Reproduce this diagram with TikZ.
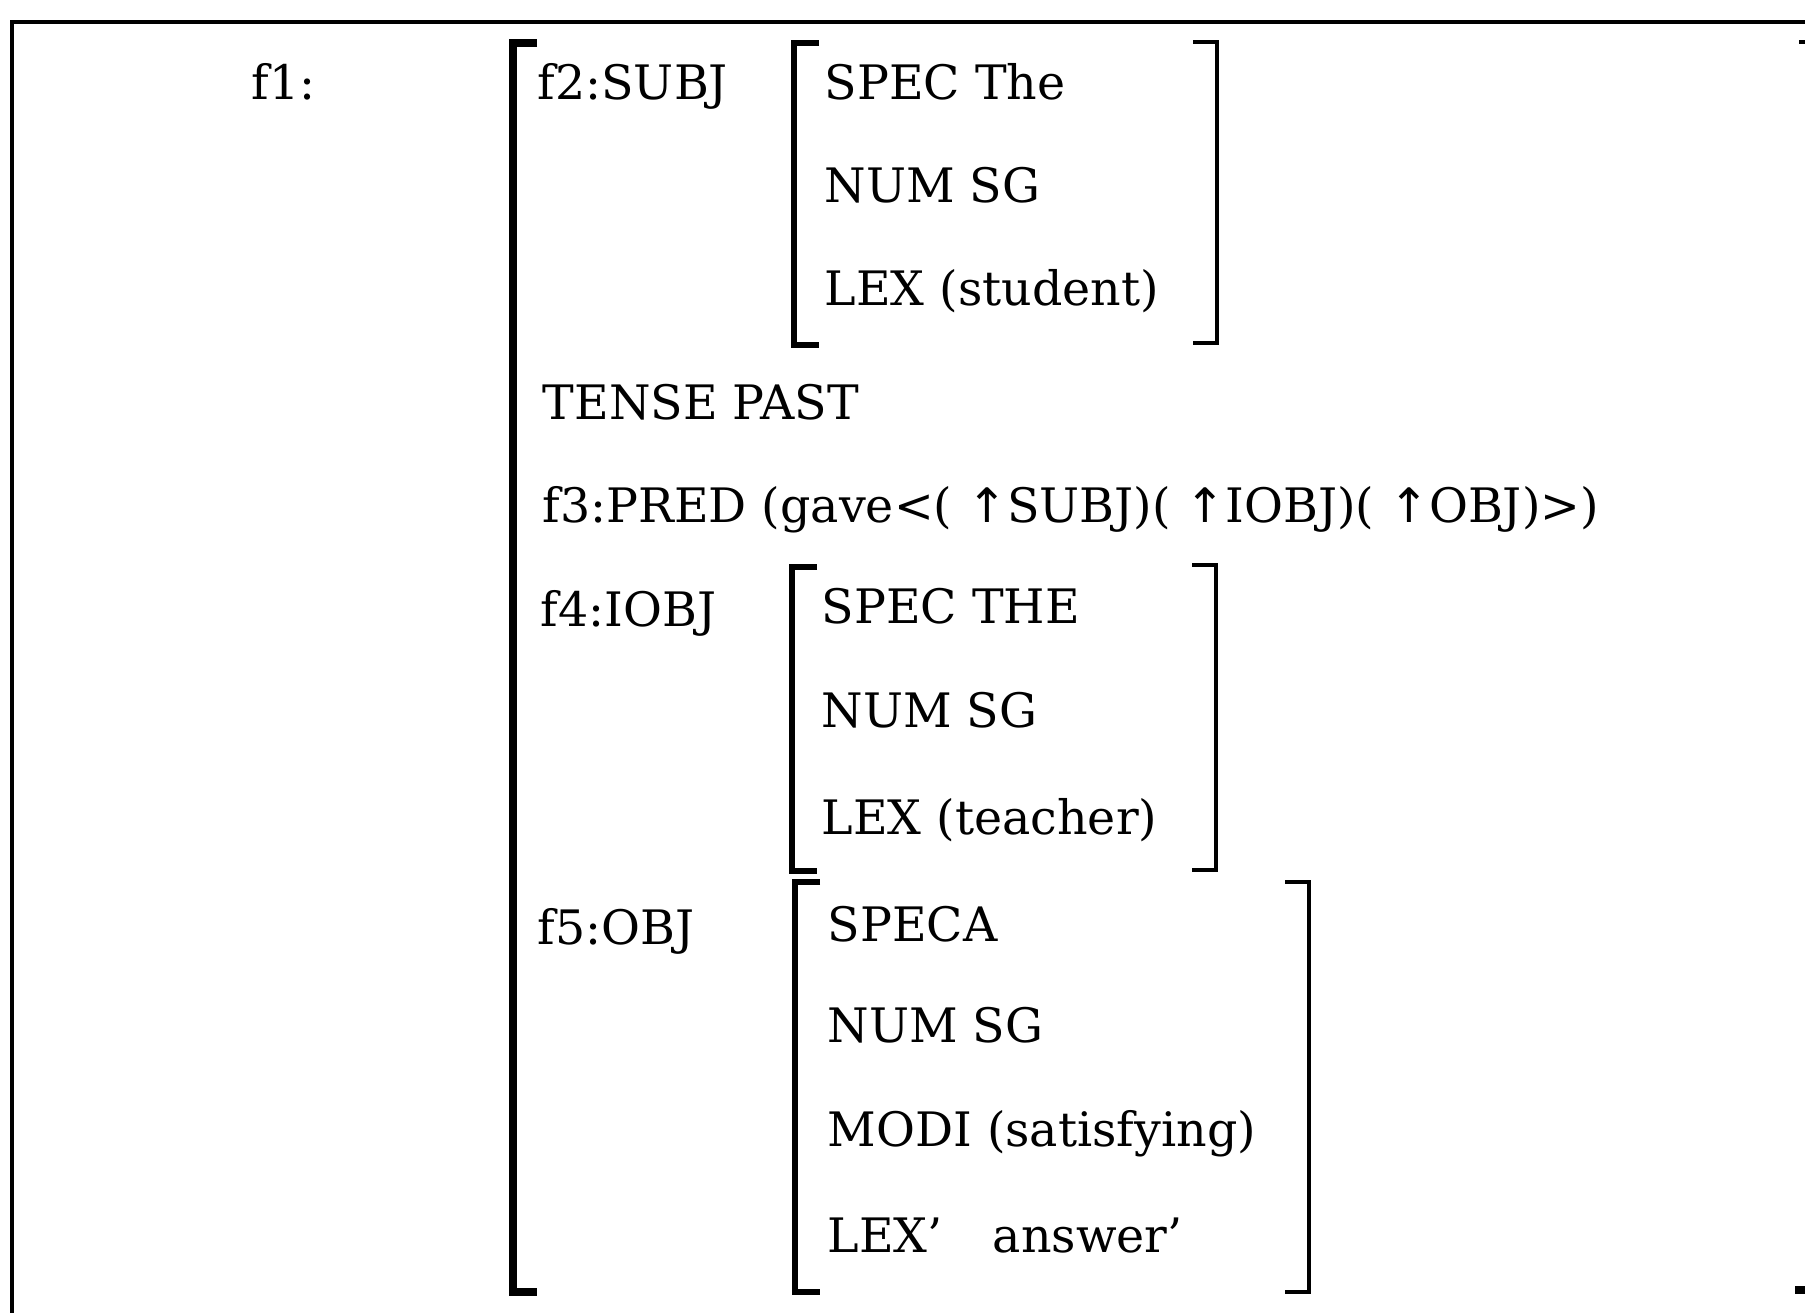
\documentclass[tikz,border=0pt]{standalone}
\usepackage{fontspec}
\setmainfont{DejaVu Serif}
\newfontfamily\arrowfont{DejaVu Sans}
\usetikzlibrary{positioning}

\begin{document}
\begin{tikzpicture}[x=0.01cm,y=-0.01cm,
  lbl/.style={anchor=base west,inner sep=0pt,font=\fontsize{13.5pt}{16pt}\selectfont},
  lbrack/.style={line width=1.5pt},
  obrack/.style={line width=2pt},
  rbrack/.style={line width=0.9pt},
  frame/.style={line width=1.2pt}]
  \useasboundingbox (0,0) rectangle (1805,1313);
  % frame
  \draw[frame] (12,1313) -- (12,22) -- (1805,22);
  % outer structure
  \node[lbl] (f1) at (251,100) {f1:};
  \draw[obrack] (537,43) -- (513,43) -- (513,1292) -- (537,1292);
  \draw[rbrack] (1799,42) -- (1805,42);
  \draw[obrack] (1795,1290) -- (1805,1290);
  \node[lbl] (subj) at (537,100) {f2:SUBJ};
  \node[lbl] (tense) at (542,420) {TENSE PAST};
  \node[lbl] (pred) at (542,523) {f3:PRED (gave<( {\arrowfont ↑}SUBJ)( {\arrowfont ↑}IOBJ)( {\arrowfont ↑}OBJ)>)};
  \node[lbl] (iobj) at (540,627) {f4:IOBJ};
  \node[lbl] (obj) at (537,945) {f5:OBJ};
  % inner brackets
  \foreach \x/\t/\b in {794/43/345, 792/567/871, 795/882/1292}{
    \draw[lbrack] (\x+25,\t) -- (\x,\t) -- (\x,\b) -- (\x+25,\b);}
  \foreach \x/\t/\b in {1217/42/343, 1216/565/870, 1309/882/1292}{
    \draw[rbrack] (\x-24,\t) -- (\x,\t) -- (\x,\b) -- (\x-24,\b);}
  % f2 features
  \foreach \n/\y/\t in {spa/100/{SPEC The}, nma/203/{NUM SG}, lxa/306/{LEX (student)}}{
    \node[lbl] (\n) at (824,\y) {\t};}
  % f4 features
  \foreach \n/\y/\t in {spb/624/{SPEC THE}, nmb/728/{NUM SG}, lxb/835/{LEX (teacher)}}{
    \node[lbl] (\n) at (821,\y) {\t};}
  % f5 features
  \foreach \n/\y/\t in {spc/942/{SPECA}, nmc/1043/{NUM SG}, mdc/1147/{MODI (satisfying)}, lxc/1253/{LEX’\hspace{0.5cm}answer’}}{
    \node[lbl] (\n) at (827,\y) {\t};}
\end{tikzpicture}
\end{document}
